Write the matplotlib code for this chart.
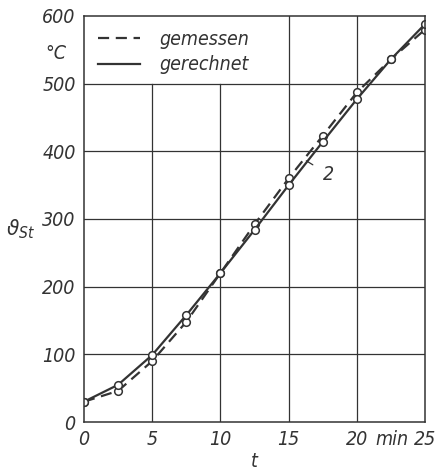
import matplotlib.pyplot as plt

t = [0, 2.5, 5, 7.5, 10, 12.5, 15, 17.5, 20, 22.5, 25]
gemessen = [30, 46, 90, 148, 220, 292, 360, 423, 487, 536, 580]
gerechnet = [30, 55, 99, 158, 220, 284, 350, 414, 477, 536, 588]
xticks = [0, 5, 10, 15, 20, 25]
yticks = [0, 100, 200, 300, 400, 500, 600]

plt.rcParams['font.family'] = ['DejaVu Sans']
plt.rcParams['font.stretch'] = 'condensed'
plt.rcParams['font.style'] = 'italic'
plt.rcParams['mathtext.fontset'] = 'dejavusans'
ink = '#333333'
fs = 14

fig = plt.figure(figsize=(4.38, 4.76), dpi=100)
ax = fig.add_axes([84 / 438, 54 / 476, 341 / 438, 406 / 476])
ax.set_xlim(0, 25)
ax.set_ylim(0, 600)

# gitter, oben links vom legendenfeld frei gelassen
for x in [5, 10]:
    ax.plot([x, x], [0, 500], color=ink, lw=0.9)
for x in [15, 20]:
    ax.plot([x, x], [0, 600], color=ink, lw=0.9)
for y in [100, 200, 300, 400, 500]:
    ax.plot([0, 25], [y, y], color=ink, lw=0.9)

ax.plot(t, gemessen, '--', color=ink, lw=1.6, dashes=(5, 3),
        marker='o', ms=5.5, mfc='white', mec=ink, mew=1.1, label='gemessen')
ax.plot(t, gerechnet, '-', color=ink, lw=1.6,
        marker='o', ms=5.5, mfc='white', mec=ink, mew=1.1, label='gerechnet')

for s in ax.spines.values():
    s.set_color(ink)
    s.set_linewidth(1.1)
ax.tick_params(length=0, colors=ink, labelsize=fs)
ax.tick_params(axis='y', pad=6)
ax.tick_params(axis='x', pad=6)

ax.set_yticks(yticks)
ax.set_yticklabels([str(v) for v in yticks])
ax.set_xticks(xticks)
ax.set_xticklabels([str(v) for v in xticks])
ax.text(22.6, -12, 'min', ha='center', va='top', fontsize=fs, color=ink)
ax.text(-1.3, 545, '°C', ha='right', va='center', fontsize=fs, color=ink)
ax.set_xlabel('t', fontsize=fs, color=ink, labelpad=2)
ax.text(-3.6, 285, r'$\vartheta_{St}$', ha='right', va='center', fontsize=16, color=ink)

# bezeichnung 2
ax.annotate('2', xy=(16.3, 386), xytext=(17.5, 366), fontsize=fs, color=ink,
            ha='left', va='center',
            arrowprops=dict(arrowstyle='-', color=ink, lw=0.9, shrinkA=6, shrinkB=0))

leg = ax.legend(loc='upper left', frameon=False, fontsize=fs, handlelength=2.2,
                borderaxespad=0.3, labelspacing=0.35, handletextpad=1.0)
for h in leg.legend_handles:
    h.set_marker('')
for txt in leg.get_texts():
    txt.set_color(ink)

fig.savefig('out.png', dpi=100)
